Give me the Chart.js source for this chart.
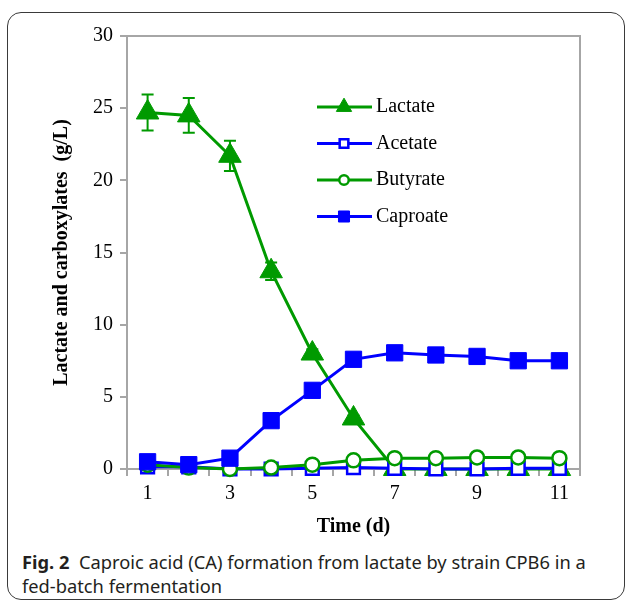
<!DOCTYPE html>
<html>
<head>
<meta charset="utf-8">
<script src="https://cdn.jsdelivr.net/npm/chart.js@4.4.0/dist/chart.umd.min.js"></script>
<style>
  body { margin: 0; width: 627px; height: 605px; position: relative; background: #fff; overflow: hidden; }
  #frame { position: absolute; left: 7px; top: 12px; width: 618px; height: 588px; border: 1.5px solid #3a3a3a; border-radius: 14px; box-sizing: border-box; }
  #wrap { position: absolute; left: 0; top: 0; width: 627px; height: 545px; }
  #caption { position: absolute; left: 22px; top: 550px; width: 604px; font-family: 'Noto Sans', sans-serif; font-size: 18.3px; line-height: 24px; color: #231f20; white-space: nowrap; }
</style>
</head>
<body>
<div id="frame"></div>
<div id="wrap"><canvas id="chart" width="627" height="545"></canvas></div>
<div id="caption"><b>Fig. 2</b>&nbsp; Caproic acid (CA) formation from lactate by strain CPB6 in a<br>fed-batch fermentation</div>
<script>
// values (g/L), days 1..11
const days = ['1', '2', '3', '4', '5', '6', '7', '8', '9', '10', '11'];
const lactate = [24.7, 24.5, 21.7, 13.7, 8.0, 3.5, 0, 0, 0, 0, 0];
const lactateErr = [1.25, 1.2, 1.05, 0.6, 0.3, 0.2, 0, 0, 0, 0, 0];
const acetate = [0.15, 0.15, 0.0, 0.0, 0.05, 0.1, 0.05, 0.0, 0.0, 0.05, 0.05];
const butyrate = [0.3, 0.1, 0.0, 0.1, 0.3, 0.6, 0.75, 0.75, 0.8, 0.8, 0.75];
const caproate = [0.5, 0.3, 0.75, 3.35, 5.45, 7.6, 8.05, 7.9, 7.8, 7.5, 7.5];

const GREEN = '#009a00';
const BLUE = '#0000ff';
const GREY = '#a6a6a6';
const serif = "'Liberation Serif', 'Times New Roman', serif";

const errorBars = {
  id: 'errorBars',
  afterDatasetsDraw(chart) {
    const { ctx, scales: { x, y } } = chart;
    ctx.save();
    ctx.strokeStyle = GREEN;
    ctx.lineWidth = 2;
    lactate.forEach((v, i) => {
      const e = lactateErr[i];
      if (!e) return;
      const px = x.getPixelForValue(i);
      const top = y.getPixelForValue(v + e);
      const bot = y.getPixelForValue(v - e);
      ctx.beginPath();
      ctx.moveTo(px, top); ctx.lineTo(px, bot);
      ctx.moveTo(px - 6, top); ctx.lineTo(px + 6, top);
      ctx.moveTo(px - 6, bot); ctx.lineTo(px + 6, bot);
      ctx.stroke();
    });
    ctx.restore();
  },
};

const plotBox = {
  id: 'plotBox',
  beforeDatasetsDraw(chart) {
    const { ctx, chartArea: a } = chart;
    ctx.save();
    ctx.strokeStyle = GREY;
    ctx.lineWidth = 2;
    ctx.beginPath();
    ctx.moveTo(a.left, a.top);
    ctx.lineTo(a.right, a.top);
    ctx.lineTo(a.right, a.bottom);
    ctx.stroke();
    ctx.restore();
  },
};

const insideLegend = {
  id: 'insideLegend',
  afterDraw(chart) {
    const { ctx } = chart;
    const rows = [107, 143.5, 180, 216.5];
    chart.data.datasets.forEach((ds, i) => {
      const yy = rows[i];
      ctx.save();
      ctx.strokeStyle = ds.borderColor;
      ctx.lineWidth = 3;
      ctx.beginPath();
      ctx.moveTo(317, yy);
      ctx.lineTo(372, yy);
      ctx.stroke();
      ctx.fillStyle = ds.pointBackgroundColor;
      ctx.strokeStyle = ds.pointBorderColor;
      ctx.lineWidth = ds.pointBorderWidth;
      Chart.helpers.drawPoint(ctx, {
        pointStyle: ds.pointStyle,
        radius: ds.pointRadius * 0.68,
        borderWidth: ds.pointBorderWidth,
        rotation: 0,
      }, 344, yy);
      ctx.fillStyle = '#000';
      ctx.font = '20px ' + serif;
      ctx.textBaseline = 'middle';
      ctx.fillText(ds.label, 376, yy);
      ctx.restore();
    });
  },
};

new Chart(document.getElementById('chart'), {
  type: 'line',
  data: {
    labels: days,
    datasets: [
      {
        label: 'Lactate',
        data: lactate,
        borderColor: GREEN,
        borderWidth: 3,
        pointStyle: 'triangle',
        pointRadius: 13,
        pointBackgroundColor: GREEN,
        pointBorderColor: GREEN,
        pointBorderWidth: 1,
        order: 4,
      },
      {
        label: 'Acetate',
        data: acetate,
        borderColor: BLUE,
        borderWidth: 3,
        pointStyle: 'rect',
        pointRadius: 9,
        pointBackgroundColor: '#fff',
        pointBorderColor: BLUE,
        pointBorderWidth: 2.5,
        order: 3,
      },
      {
        label: 'Butyrate',
        data: butyrate,
        borderColor: GREEN,
        borderWidth: 3,
        pointStyle: 'circle',
        pointRadius: 7,
        pointBackgroundColor: '#fff',
        pointBorderColor: GREEN,
        pointBorderWidth: 2.5,
        order: 2,
      },
      {
        label: 'Caproate',
        data: caproate,
        borderColor: BLUE,
        borderWidth: 3,
        pointStyle: 'rect',
        pointRadius: 11.5,
        pointBackgroundColor: BLUE,
        pointBorderColor: BLUE,
        pointBorderWidth: 1,
        order: 1,
      },
    ],
  },
  options: {
    responsive: false,
    animation: false,
    clip: false,
    layout: { padding: { top: 36, right: 47, left: 0, bottom: 0 } },
    plugins: { legend: { display: false }, tooltip: { enabled: false } },
    scales: {
      x: {
        type: 'category',
        offset: true,
        grid: { offset: true, drawOnChartArea: false, tickLength: 7, color: GREY, lineWidth: 2 },
        border: { display: true, color: GREY, width: 2 },
        ticks: {
          autoSkip: false,
          maxRotation: 0,
          padding: 6,
          color: '#000',
          font: { family: serif, size: 20 },
          callback: (v, i) => (i % 2 === 0 ? days[i] : ''),
        },
        title: {
          display: true,
          text: 'Time (d)',
          color: '#000',
          font: { family: serif, size: 20, weight: 'bold' },
          padding: { top: 4, bottom: 6 },
        },
        afterFit(scale) { scale.height = 76; },
      },
      y: {
        min: 0,
        max: 30,
        grid: { drawOnChartArea: false, tickLength: 7, color: GREY, lineWidth: 2 },
        border: { display: true, color: GREY, width: 2 },
        ticks: {
          stepSize: 5,
          padding: 7,
          color: '#000',
          font: { family: serif, size: 20 },
        },
        title: {
          display: true,
          text: 'Lactate and carboxylates  (g/L)',
          color: '#000',
          font: { family: serif, size: 20, weight: 'bold' },
          padding: { top: 50, bottom: 0 },
        },
        afterFit(scale) { scale.width = 127; },
      },
    },
  },
  plugins: [plotBox, errorBars, insideLegend],
});
</script>
</body>
</html>
